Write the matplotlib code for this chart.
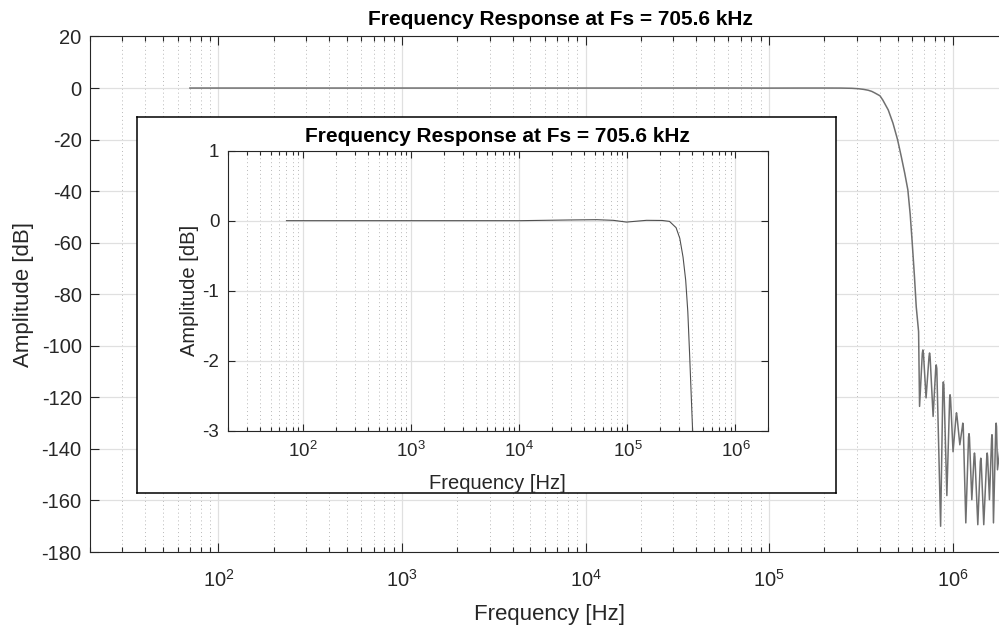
import numpy as np
import matplotlib.pyplot as plt
from matplotlib.ticker import LogLocator, MultipleLocator, NullFormatter

plt.rcParams['font.family'] = ['Liberation Sans', 'DejaVu Sans']
plt.rcParams['mathtext.default'] = 'regular'
plt.rcParams['axes.unicode_minus'] = False

# filter magnitude response (Hz, dB)
freq_hz = [70, 1.0e4, 2.9e4, 5.2e4, 7.4e4, 9.8e4, 1.5e5, 2.1e5, 2.45e5,
           2.82e5, 3.05e5, 3.27e5, 3.46e5, 3.62e5, 3.76e5, 4.01e5, 4.16e5,
           4.45e5, 4.72e5, 5.0e5, 5.24e5, 5.47e5, 5.69e5, 5.86e5, 6.01e5,
           6.18e5, 6.32e5, 6.51e5,
           6.59e5, 6.82e5, 6.87e5, 6.92e5, 7.15e5, 7.42e5, 7.47e5, 7.52e5,
           7.81e5, 8.07e5, 8.12e5, 8.18e5, 8.58e5, 8.83e5, 8.88e5, 8.94e5,
           9.28e5, 9.61e5, 9.66e5, 9.72e5, 1.003e6, 1.041e6, 1.047e6, 1.054e6,
           1.092e6, 1.127e6, 1.133e6, 1.140e6, 1.177e6, 1.218e6, 1.225e6,
           1.232e6, 1.269e6, 1.305e6, 1.312e6, 1.319e6, 1.368e6, 1.412e6,
           1.420e6, 1.428e6, 1.474e6, 1.531e6, 1.539e6, 1.547e6, 1.583e6,
           1.627e6, 1.634e6, 1.641e6, 1.665e6, 1.714e6, 1.722e6, 1.730e6,
           1.751e6, 1.911e6]
amp_db = [0.0, 0.0, 0.01, 0.014, 0.005, -0.02, 0.005, 0.003, -0.01,
          -0.1, -0.25, -0.52, -0.85, -1.3, -1.9, -3.0, -4.7,
          -8.5, -13.6, -20.0, -26.6, -33.0, -39.5, -49.0, -60.0,
          -73.0, -84.8, -94.5,
          -123.5, -103.0, -101.6, -103.0, -120.2, -104.2, -102.8, -104.2,
          -127.4, -108.8, -107.4, -108.8, -170.0, -115.4, -114.0, -115.4,
          -158.1, -120.4, -119.0, -120.4, -141.1, -127.4, -126.0, -127.4,
          -138.4, -131.4, -130.0, -131.4, -168.7, -135.5, -134.1,
          -135.5, -159.7, -143.0, -141.6, -143.0, -169.4, -145.0,
          -143.6, -145.0, -169.4, -143.0, -141.6, -143.0, -159.7,
          -135.9, -134.5, -135.9, -168.7, -131.4, -130.0, -131.4,
          -148.1, -124.8]

title = 'Frequency Response at Fs = 705.6 kHz'
x_range = (20, 2e6)

TXT = '#262626'


def style_axes(ax, fs, xpad, ypad, maj, mnr):
    ax.set_xscale('log')
    ax.set_xlim(*x_range)
    ax.xaxis.set_major_locator(LogLocator(base=10, numticks=20))
    ax.xaxis.set_minor_locator(LogLocator(base=10, subs=np.arange(2, 10), numticks=20))
    ax.xaxis.set_minor_formatter(NullFormatter())
    ax.tick_params(which='both', direction='in', top=True, right=True,
                   color=TXT, labelcolor=TXT, labelsize=fs, width=0.8)
    ax.tick_params(which='major', length=maj)
    ax.tick_params(which='minor', length=mnr)
    ax.tick_params(axis='x', pad=xpad)
    ax.tick_params(axis='y', pad=ypad)
    ax.grid(True, which='major', color='#e0e0e0', lw=0.9, ls='-')
    ax.grid(True, which='minor', axis='x', color='#b8b8b8', lw=0.7, ls=(0, (1, 3)))
    ax.set_axisbelow(True)
    for s in ax.spines.values():
        s.set_color(TXT)
        s.set_linewidth(0.8)


fig = plt.figure(figsize=(9.99, 6.26), dpi=100)

ax = fig.add_axes([0.0901, 0.1182, 0.919, 0.8235])
ax.plot(freq_hz, amp_db, color='#707070', lw=1.1)
ax.set_ylim(-180, 20)
ax.yaxis.set_major_locator(MultipleLocator(20))
style_axes(ax, 14.5, 12, 6, 6.5, 3.5)
ax.set_title(title, fontsize=15, fontweight='bold', pad=8, x=0.512)
ax.set_xlabel('Frequency [Hz]', fontsize=16, color=TXT)
ax.set_ylabel('Amplitude [dB]', fontsize=16, color=TXT)
ax.xaxis.set_label_coords(0.5, -0.1)
ax.yaxis.set_label_coords(-0.061, 0.5)

# white box behind the zoomed view
box = fig.add_axes([0.1371, 0.2125, 0.6994, 0.6006])
box.set_xticks([])
box.set_yticks([])
box.set_facecolor('white')
for s in box.spines.values():
    s.set_color('black')
    s.set_linewidth(1.1)

ins = fig.add_axes([0.2279, 0.312, 0.5409, 0.4473])
ins.plot(freq_hz, amp_db, color='#505050', lw=0.8)
ins.set_ylim(-3, 1)
ins.yaxis.set_major_locator(MultipleLocator(1))
style_axes(ins, 13.5, 7, 6, 5, 2.8)
ins.set_title(title, fontsize=15, fontweight='bold', pad=6)
ins.set_xlabel('Frequency [Hz]', fontsize=14.5, color=TXT)
ins.set_ylabel('Amplitude [dB]', fontsize=14.5, color=TXT)
ins.xaxis.set_label_coords(0.5, -0.155)
ins.yaxis.set_label_coords(-0.053, 0.5)

fig.savefig('out.png', dpi=100)
